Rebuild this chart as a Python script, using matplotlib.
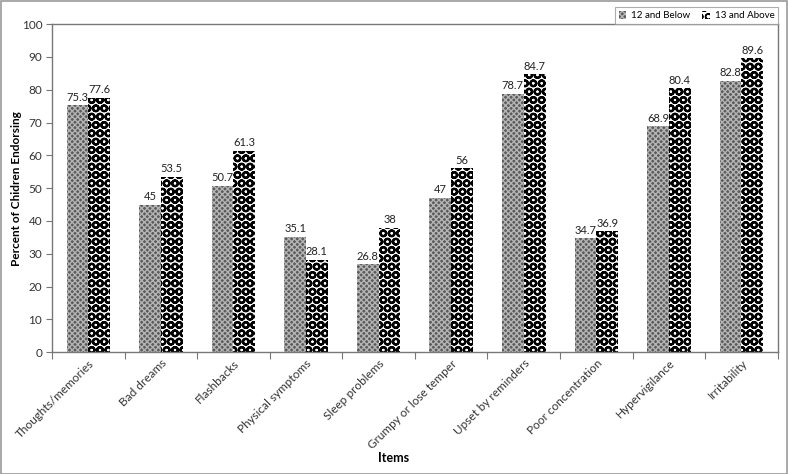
import matplotlib
matplotlib.use("Agg")
import matplotlib.pyplot as plt
import numpy as np
from matplotlib.patches import Rectangle

plt.rcParams['font.family'] = ['Lato', 'DejaVu Sans']
plt.rcParams['hatch.linewidth'] = 1.0

categories = ["Thoughts/memories", "Bad dreams", "Flashbacks", "Physical symptoms",
              "Sleep problems", "Grumpy or lose temper", "Upset by reminders",
              "Poor concentration", "Hypervigilance", "Irritability"]
below = [75.3, 45, 50.7, 35.1, 26.8, 47, 78.7, 34.7, 68.9, 82.8]
above = [77.6, 53.5, 61.3, 28.1, 38, 56, 84.7, 36.9, 80.4, 89.6]
below_labels = ["75.3", "45", "50.7", "35.1", "26.8", "47", "78.7", "34.7", "68.9", "82.8"]
above_labels = ["77.6", "53.5", "61.3", "28.1", "38", "56", "84.7", "36.9", "80.4", "89.6"]
series_names = ["12 and Below", "13 and Above"]

fig = plt.figure(figsize=(7.88, 4.74), dpi=100)
ax = fig.add_axes([0.066, 0.257, 0.921, 0.692])

x = np.arange(len(categories))
w = 0.3
b1 = ax.bar(x - w/2, below, w, facecolor='#5a5a5a', edgecolor='#b4b4b4', hatch='xxxxxx', linewidth=0, label=series_names[0])
b2 = ax.bar(x + w/2, above, w, facecolor='white', edgecolor='black', hatch='OO', linewidth=0, label=series_names[1])
for r in b2:
    r.set_hatch_linewidth(1.6)

for xi, v, t in zip(x, below, below_labels):
    ax.text(xi - w/2, v + 0.8, t, ha='center', va='bottom', fontsize=8, color='#222222')
for xi, v, t in zip(x, above, above_labels):
    ax.text(xi + w/2, v + 0.8, t, ha='center', va='bottom', fontsize=8, color='#222222')

ax.set_xlim(-0.5, len(categories) - 0.5)
ax.set_ylim(0, 100)
ax.set_yticks(np.arange(0, 101, 10))
ax.set_xticks(np.arange(-0.5, len(categories), 1.0), minor=False)
ax.set_xticklabels([])
ax.set_xticks(x, minor=True)
ax.set_xticklabels(categories, minor=True, rotation=45, ha='right', rotation_mode='anchor', fontsize=8.5, color='#333333')
ax.tick_params(axis='x', which='minor', length=0, pad=4)
ax.tick_params(axis='x', which='major', length=5, color='#777777', direction='out')
ax.tick_params(axis='y', length=4, color='#777777', labelsize=8.5, labelcolor='#333333', pad=3)
for s in ax.spines.values():
    s.set_color('#777777')
    s.set_linewidth(1.0)

ax.set_ylabel("Percent of Chidren Endorsing", fontsize=8.5, fontweight='bold')
ax.yaxis.set_label_coords(-0.041, 0.5)
fig.text(0.5, 0.033, "Items", ha='center', va='center', fontsize=9, fontweight='bold')

leg = fig.legend(handles=[b1, b2], labels=series_names, loc='upper right', bbox_to_anchor=(0.994, 0.995),
                 ncol=2, fontsize=7, frameon=True, fancybox=False, handlelength=0.8, handleheight=0.8,
                 handletextpad=0.5, columnspacing=1.2, borderpad=0.4)
leg.get_frame().set_edgecolor('#999999')
leg.get_frame().set_linewidth(0.8)

fig.patches.append(Rectangle((0.001, 0.001), 0.998, 0.997, transform=fig.transFigure,
                             fill=False, edgecolor='#999999', linewidth=1.2))

fig.savefig("out.png", dpi=100)
